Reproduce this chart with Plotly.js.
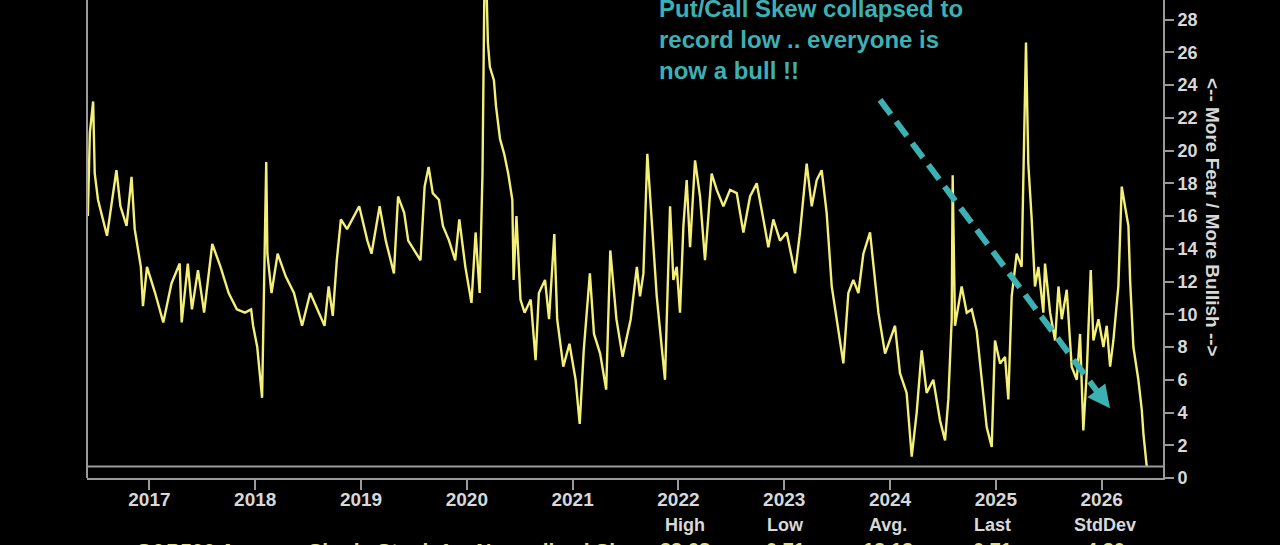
<!DOCTYPE html>
<html>
<head>
<meta charset="utf-8">
<script src="https://cdn.plot.ly/plotly-3.0.1.min.js"></script>
<style>
  html, body { margin: 0; padding: 0; background: #000; }
  #chart { width: 1280px; height: 545px; }
</style>
</head>
<body>
<div id="chart"></div>
<script>
// year fractions, with the skew value at each
var skewYears = [
  2016.418, 2016.437, 2016.468, 2016.483, 2016.514, 2016.599, 2016.630, 2016.688, 2016.726, 2016.784,
  2016.831, 2016.861, 2016.919, 2016.939, 2016.977, 2017.054, 2017.131, 2017.209, 2017.286, 2017.305,
  2017.363, 2017.402, 2017.459, 2017.517, 2017.594, 2017.672, 2017.749, 2017.826, 2017.903, 2017.961,
  2017.980, 2018.019, 2018.065, 2018.104, 2018.115, 2018.154, 2018.212, 2018.289, 2018.366, 2018.443,
  2018.520, 2018.598, 2018.655, 2018.694, 2018.733, 2018.771, 2018.810, 2018.868, 2018.945, 2018.983,
  2019.060, 2019.099, 2019.176, 2019.234, 2019.311, 2019.350, 2019.408, 2019.446, 2019.562, 2019.601,
  2019.639, 2019.678, 2019.736, 2019.774, 2019.832, 2019.890, 2019.929, 2019.986, 2020.044, 2020.083,
  2020.121, 2020.148, 2020.172, 2020.199, 2020.218, 2020.256, 2020.276, 2020.314, 2020.353, 2020.391,
  2020.430, 2020.442, 2020.469, 2020.507, 2020.546, 2020.604, 2020.650, 2020.681, 2020.739, 2020.777,
  2020.827, 2020.854, 2020.912, 2020.970, 2021.028, 2021.067, 2021.105, 2021.163, 2021.202, 2021.260,
  2021.317, 2021.356, 2021.414, 2021.472, 2021.549, 2021.607, 2021.637, 2021.669, 2021.706, 2021.732,
  2021.763, 2021.795, 2021.842, 2021.873, 2021.921, 2021.952, 2021.984, 2022.015, 2022.047, 2022.078,
  2022.110, 2022.157, 2022.204, 2022.251, 2022.314, 2022.362, 2022.425, 2022.488, 2022.551, 2022.614,
  2022.677, 2022.740, 2022.803, 2022.850, 2022.897, 2022.960, 2023.023, 2023.102, 2023.149, 2023.212,
  2023.260, 2023.307, 2023.354, 2023.401, 2023.449, 2023.496, 2023.527, 2023.559, 2023.606, 2023.653,
  2023.701, 2023.748, 2023.811, 2023.843, 2023.890, 2023.953, 2024.000, 2024.047, 2024.094, 2024.157,
  2024.205, 2024.252, 2024.299, 2024.346, 2024.409, 2024.473, 2024.520, 2024.551, 2024.583, 2024.592,
  2024.614, 2024.677, 2024.725, 2024.772, 2024.819, 2024.866, 2024.914, 2024.961, 2024.992, 2025.040,
  2025.087, 2025.118, 2025.150, 2025.197, 2025.244, 2025.285, 2025.307, 2025.339, 2025.370, 2025.402,
  2025.449, 2025.465, 2025.513, 2025.560, 2025.592, 2025.623, 2025.670, 2025.717, 2025.765, 2025.796,
  2025.827, 2025.859, 2025.897, 2025.922, 2025.970, 2026.017, 2026.048, 2026.080, 2026.111, 2026.158,
  2026.190, 2026.221, 2026.253, 2026.269, 2026.300, 2026.347, 2026.379, 2026.395, 2026.426
];
var skewValues = [
  16.0, 21.1, 23.0, 18.6, 17.0, 14.8, 16.2, 18.8, 16.6, 15.4,
  18.4, 15.2, 12.9, 10.5, 12.9, 11.3, 9.5, 11.9, 13.1, 9.5,
  13.1, 10.3, 12.7, 10.1, 14.3, 12.9, 11.3, 10.3, 10.1, 10.3,
  9.3, 8.0, 4.9, 19.3, 13.7, 11.3, 13.7, 12.3, 11.3, 9.3,
  11.3, 10.1, 9.3, 11.7, 9.9, 13.3, 15.8, 15.2, 16.2, 16.6,
  14.5, 13.7, 16.6, 14.5, 12.5, 17.2, 16.2, 14.5, 13.3, 17.8,
  19.0, 17.4, 17.0, 15.4, 14.5, 13.3, 15.8, 12.9, 10.7, 15.0,
  11.3, 18.6, 33.68, 26.6, 25.1, 24.3, 22.7, 20.7, 19.8, 18.6,
  17.0, 12.1, 16.0, 10.9, 10.1, 10.9, 7.2, 11.3, 12.1, 9.7,
  14.9, 9.7, 6.8, 8.2, 6.0, 3.3, 7.8, 12.5, 8.8, 7.6,
  5.4, 13.9, 9.7, 7.4, 9.7, 12.9, 11.1, 12.5, 19.8, 17.2,
  14.8, 11.1, 8.0, 6.0, 16.6, 12.1, 12.9, 10.1, 15.4, 18.2,
  14.1, 19.4, 17.2, 13.3, 18.6, 17.6, 16.6, 17.6, 17.4, 15.0,
  17.2, 18.0, 15.8, 14.1, 15.8, 14.5, 15.0, 12.5, 15.0, 19.2,
  16.6, 18.2, 18.8, 16.2, 11.7, 9.7, 8.4, 7.0, 11.3, 12.1,
  11.3, 13.7, 15.0, 12.9, 10.1, 7.6, 8.4, 9.3, 6.4, 5.2,
  1.3, 4.0, 7.8, 5.2, 6.0, 3.5, 2.3, 4.8, 9.7, 18.5,
  9.3, 11.7, 10.1, 10.3, 9.0, 6.0, 3.1, 1.9, 8.4, 7.0,
  7.4, 4.8, 11.1, 13.7, 12.9, 26.6, 19.2, 15.8, 11.7, 12.9,
  10.1, 13.1, 10.1, 8.4, 11.7, 9.7, 11.5, 6.8, 6.0, 8.8,
  2.9, 6.4, 12.7, 8.4, 9.7, 8.0, 9.3, 6.8, 8.4, 11.7,
  17.8, 16.6, 15.4, 12.1, 8.0, 6.0, 4.2, 2.7, 0.71
];
var yearTicks = [2017, 2018, 2019, 2020, 2021, 2022, 2023, 2024, 2025, 2026];
var skewTicks = [0, 2, 4, 6, 8, 10, 12, 14, 16, 18, 20, 22, 24, 26, 28];
var seriesName = 'S&P500 Average Single Stock 1m Normalized Skew';
var statNames = ['High', 'Low', 'Avg.', 'Last', 'StdDev'];
var statValues = ['33.68', '0.71', '12.13', '0.71', '4.30'];
var lowValue = 0.71;
var arrowFrom = [2023.905, 23.1];
var arrowTo = [2026.079, 4.26];

var xRange = [2016.41, 2026.58];
var yRange = [0, 29.2];
var teal = '#3cb1b4';
var gray = '#9a9a9a';
var labelFont = 'Liberation Sans, Arial';
var plotW = 1280 - 87 - 117, plotH = 545 - 67;

// pixel x of each stats column, turned into paper fractions
var statCenters = [685, 785, 888, 992, 1105];

var trace = {
    x: skewYears,
    y: skewValues,
    mode: 'lines',
    name: seriesName,
    line: {color: '#f3ef78', width: 2.4},
    hoverinfo: 'x+y'
};

// the dashed body of the arrow stops short of the head
var headDx = -13, headDy = -17;
var bodyEnd = [
    arrowTo[0] + headDx * (xRange[1] - xRange[0]) / plotW,
    arrowTo[1] - headDy * (yRange[1] - yRange[0]) / plotH
];

var annotations = [
    {
        xref: 'paper', yref: 'paper', x: (657 - 87) / plotW, y: (plotH - 39) / plotH,
        xanchor: 'left', yanchor: 'middle', align: 'left', showarrow: false,
        text: '<b>Put/Call Skew collapsed to<br>record low .. everyone is<br>now a bull !!</b>',
        font: {family: labelFont, size: 24, color: teal}
    },
    {
        xref: 'x', yref: 'y', x: arrowTo[0], y: arrowTo[1],
        ax: headDx, ay: headDy, showarrow: true, text: '',
        arrowhead: 2, arrowsize: 0.75, arrowwidth: 6, arrowcolor: teal
    },
    {
        xref: 'paper', yref: 'paper', x: (1213 - 87) / plotW, y: (plotH - 217) / plotH,
        xanchor: 'center', yanchor: 'middle', showarrow: false, textangle: 90,
        text: '<b>&lt;-- More Fear / More Bullish --&gt;</b>',
        font: {family: labelFont, size: 19, color: '#d8d8d8'}
    },
    {
        xref: 'paper', yref: 'paper', x: (652 - 87) / plotW, y: (plotH - 550) / plotH,
        xanchor: 'right', yanchor: 'middle', showarrow: false,
        text: '<b>' + seriesName + '</b>',
        font: {family: labelFont, size: 21, color: '#e6e070'}
    }
];
for (var i = 0; i < statNames.length; i++) {
    annotations.push({
        xref: 'paper', yref: 'paper', x: (statCenters[i] - 87) / plotW, y: (plotH - 525) / plotH,
        xanchor: 'center', yanchor: 'middle', showarrow: false,
        text: '<b>' + statNames[i] + '</b>',
        font: {family: labelFont, size: 18, color: '#d8d8d8'}
    });
    annotations.push({
        xref: 'paper', yref: 'paper', x: (statCenters[i] - 87) / plotW, y: (plotH - 550) / plotH,
        xanchor: 'center', yanchor: 'middle', showarrow: false,
        text: '<b>' + statValues[i] + '</b>',
        font: {family: labelFont, size: 20, color: '#e6e070'}
    });
}

var layout = {
    width: 1280,
    height: 545,
    margin: {l: 87, r: 117, t: 0, b: 67},
    paper_bgcolor: '#000',
    plot_bgcolor: '#000',
    showlegend: false,
    xaxis: {
        range: xRange,
        tickvals: yearTicks,
        ticktext: yearTicks.map(function (y) { return '<b>' + y + '</b>'; }),
        ticks: 'outside', ticklen: 10, tickwidth: 2, tickcolor: gray,
        ticklabelstandoff: -7,
        showline: true, linecolor: gray, linewidth: 2,
        showgrid: false, zeroline: false,
        tickfont: {family: labelFont, size: 19, color: '#d8d8d8'}
    },
    yaxis: {
        range: yRange,
        side: 'right',
        tickvals: skewTicks,
        ticktext: skewTicks.map(function (v) { return '<b>' + v + '</b>'; }),
        ticks: 'outside', ticklen: 9, tickwidth: 2, tickcolor: gray,
        showline: true, linecolor: gray, linewidth: 2,
        showgrid: false, zeroline: false,
        tickfont: {family: labelFont, size: 18, color: '#d8d8d8'}
    },
    shapes: [
        {type: 'line', xref: 'paper', yref: 'paper', x0: 0, x1: 0, y0: 0, y1: 1,
         line: {color: gray, width: 2}},
        {type: 'line', xref: 'paper', yref: 'y', x0: 0, x1: 1, y0: lowValue, y1: lowValue,
         line: {color: gray, width: 2}},
        {type: 'line', xref: 'x', yref: 'y', x0: arrowFrom[0], y0: arrowFrom[1],
         x1: bodyEnd[0], y1: bodyEnd[1],
         line: {color: teal, width: 6, dash: '18px,9px'}}
    ],
    annotations: annotations
};

Plotly.newPlot('chart', [trace], layout, {displayModeBar: false, staticPlot: true});
</script>
</body>
</html>
